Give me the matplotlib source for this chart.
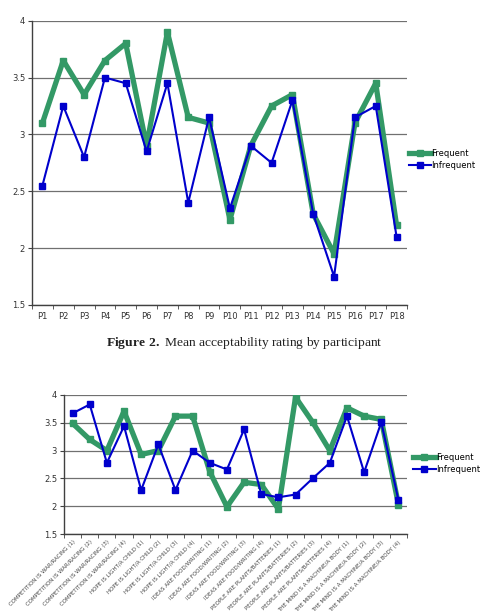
import numpy as np
import matplotlib
matplotlib.use('Agg')
import matplotlib.pyplot as plt

# Chart 1: mean acceptability per participant
participants = ['P%d' % i for i in range(1, 19)]
freq_by_participant = [3.10, 3.65, 3.35, 3.65, 3.80, 2.90, 3.90, 3.15, 3.10,
                       2.25, 2.90, 3.25, 3.35, 2.30, 1.95, 3.10, 3.45, 2.20]
infreq_by_participant = [2.55, 3.25, 2.80, 3.50, 3.45, 2.85, 3.45, 2.40, 3.15,
                         2.35, 2.90, 2.75, 3.30, 2.30, 1.75, 3.15, 3.25, 2.10]

# Chart 2: mean acceptability per item
items = []
for metaphor in ['COMPETITION IS WAR/RACING', 'HOPE IS LIGHT/A CHILD',
                 'IDEAS ARE FOOD/WRITING', 'PEOPLE ARE PLANTS/BATTERIES',
                 'THE MIND IS A MACHINE/A BODY']:
    for k in range(1, 5):
        items.append('%s (%d)' % (metaphor, k))
freq_by_item = [3.49, 3.20, 3.00, 3.71, 2.93, 3.00, 3.62, 3.62, 2.62, 1.99,
                2.43, 2.39, 1.95, 3.96, 3.51, 3.00, 3.77, 3.62, 3.56, 2.03]
infreq_by_item = [3.67, 3.83, 2.78, 3.44, 2.29, 3.11, 2.29, 3.00, 2.78, 2.66,
                  3.38, 2.22, 2.16, 2.21, 2.50, 2.78, 3.62, 2.61, 3.51, 2.11]

GREEN = '#339966'
BLUE = '#0000cc'
W, H = 492, 614

plt.rcParams['mathtext.fontset'] = 'custom'
plt.rcParams['mathtext.rm'] = 'Liberation Serif'
plt.rcParams['mathtext.bf'] = 'Liberation Serif:bold'


def rect(left, top, right, bottom):
    return [left / W, (H - bottom) / H, (right - left) / W, (bottom - top) / H]


def draw(ax, labels, freq, infreq, xfont, rot):
    n = len(labels)
    x = np.arange(n)
    ax.plot(x, freq, color=GREEN, lw=3.8, marker='s', ms=5, mec=GREEN,
            label='Frequent', zorder=3)
    ax.plot(x, infreq, color=BLUE, lw=1.5, marker='s', ms=4.5, mec=BLUE,
            label='Infrequent', zorder=4)
    ax.set_xlim(-0.5, n - 0.5)
    ax.set_ylim(1.5, 4)
    ax.set_yticks(np.arange(1.5, 4.01, 0.5))
    ax.set_yticklabels(['1.5', '2', '2.5', '3', '3.5', '4'])
    ax.grid(axis='y', color='#707070', lw=0.9)
    ax.set_axisbelow(True)
    for s in ['top', 'right']:
        ax.spines[s].set_visible(False)
    for s in ['left', 'bottom']:
        ax.spines[s].set_color('#404040')
        ax.spines[s].set_linewidth(1)
    ax.set_xticks(x)
    ax.set_xticks(np.arange(-0.5, n, 1), minor=True)
    ax.tick_params(axis='x', which='major', length=0, pad=5)
    ax.tick_params(axis='x', which='minor', length=3, color='#404040')
    ax.tick_params(axis='y', length=3, color='#404040', labelsize=6,
                   labelcolor='#333333', pad=2)
    if rot:
        ax.set_xticklabels(labels, rotation=45, ha='right', va='top',
                           rotation_mode='anchor', fontsize=xfont,
                           color='#444444')
        ax.tick_params(axis='x', which='major', pad=4)
    else:
        ax.set_xticklabels(labels, fontsize=xfont, color='#333333')


fig = plt.figure(figsize=(W / 100, H / 100), dpi=100)

ax1 = fig.add_axes(rect(32, 20.7, 407, 305))
draw(ax1, participants, freq_by_participant, infreq_by_participant, 6, False)
ax1.legend(loc='upper left', bbox_to_anchor=(409 / W, (H - 149) / H),
           bbox_transform=fig.transFigure, frameon=False, fontsize=6,
           handlelength=2.6, handletextpad=0.05, labelspacing=0.3,
           borderpad=0, borderaxespad=0)

ax2 = fig.add_axes(rect(64, 395, 407, 534))
draw(ax2, items, freq_by_item, infreq_by_item, 4, True)
ax2.legend(loc='upper left', bbox_to_anchor=(413 / W, (H - 453) / H),
           bbox_transform=fig.transFigure, frameon=False, fontsize=6,
           handlelength=2.7, handletextpad=0.05, labelspacing=0.3,
           borderpad=0, borderaxespad=0)

fig.text(0.497, (H - 343) / H,
         r'$\mathbf{Figure\ 2.}$' + ' Mean acceptability rating by participant',
         ha='center', va='center', fontsize=9.7, family='Liberation Serif',
         color='#222222')

fig.savefig('out.png', dpi=100)
